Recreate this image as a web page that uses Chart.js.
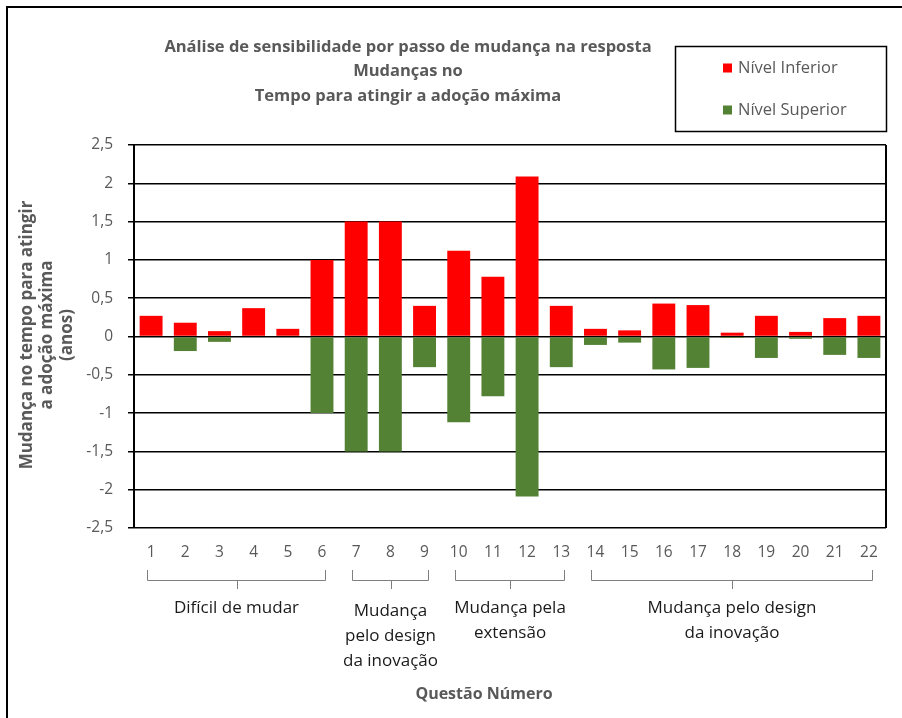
<!DOCTYPE html>
<html>
<head>
<meta charset="utf-8">
<script src="https://cdn.jsdelivr.net/npm/chart.js@4/dist/chart.umd.min.js"></script>
<style>
  html, body { margin: 0; padding: 0; background: #fff; }
  #wrap { width: 902px; height: 718px; }
</style>
</head>
<body>
<div id="wrap"><canvas id="sensChart" width="902" height="718"></canvas></div>
<script>
// dados
const questoes = ['1','2','3','4','5','6','7','8','9','10','11','12','13','14','15','16','17','18','19','20','21','22'];
const nivelInferior = [0.27, 0.18, 0.07, 0.37, 0.10, 1.00, 1.50, 1.50, 0.40, 1.12, 0.78, 2.09, 0.40, 0.10, 0.08, 0.43, 0.41, 0.05, 0.27, 0.06, 0.24, 0.27];
const nivelSuperior = [0, -0.19, -0.07, 0, 0, -1.00, -1.50, -1.50, -0.40, -1.12, -0.78, -2.09, -0.40, -0.11, -0.08, -0.43, -0.41, -0.02, -0.28, -0.03, -0.24, -0.28];
const tituloLinhas = ['Análise de sensibilidade por passo de mudança na resposta', 'Mudanças no', 'Tempo para atingir a adoção máxima'];
const eixoYLinhas = ['Mudança no tempo para atingir', 'a adoção máxima', '(anos)'];
const eixoXTitulo = 'Questão Número';
// grupos: primeira questão, última questão, linhas do rótulo
const grupos = [
    { de: 1, ate: 6, linhas: ['Difícil de mudar'] },
    { de: 7, ate: 9, linhas: ['Mudança', 'pelo design', 'da inovação'] },
    { de: 10, ate: 13, linhas: ['Mudança pela', 'extensão'] },
    { de: 14, ate: 22, linhas: ['Mudança pelo design', 'da inovação'] }
];

const FONTE = '"Open Sans", Lato, sans-serif';
const CINZA = '#595959';

// textos, moldura, chaves e legenda desenhados à mão
const extrasPlugin = {
    id: 'extras',
    afterDraw(chart) {
        const ctx = chart.ctx;
        const area = chart.chartArea;
        const xs = chart.scales.x;
        ctx.save();

        // moldura (só topo e esquerda aparecem no recorte)
        ctx.strokeStyle = '#000';
        ctx.lineWidth = 2;
        ctx.beginPath();
        ctx.moveTo(7, 718);
        ctx.lineTo(7, 7);
        ctx.lineTo(902, 7);
        ctx.stroke();

        // borda direita da área do gráfico
        ctx.beginPath();
        ctx.moveTo(area.right, area.top);
        ctx.lineTo(area.right, area.bottom);
        ctx.stroke();

        // título
        ctx.fillStyle = CINZA;
        ctx.font = 'bold 16.5px ' + FONTE;
        ctx.textAlign = 'center';
        ctx.textBaseline = 'middle';
        tituloLinhas.forEach((t, i) => ctx.fillText(t, 408, 47 + i * 24.5));

        // título do eixo Y
        ctx.save();
        ctx.translate(47, 335);
        ctx.rotate(-Math.PI / 2);
        ctx.font = 'bold 17px ' + FONTE;
        eixoYLinhas.forEach((t, i) => ctx.fillText(t, 0, (i - 1) * 20));
        ctx.restore();

        // título do eixo X
        ctx.font = 'bold 16px ' + FONTE;
        ctx.fillText(eixoXTitulo, 484, 694);

        // chaves e rótulos dos grupos
        ctx.strokeStyle = '#7f7f7f';
        ctx.lineWidth = 1;
        ctx.fillStyle = '#1a1a1a';
        ctx.font = '17px ' + FONTE;
        grupos.forEach(g => {
            const x1 = Math.round(xs.getPixelForValue(g.de - 1)) - 3.5;
            const x2 = Math.round(xs.getPixelForValue(g.ate - 1)) + 3.5;
            const xm = Math.round((x1 + x2) / 2) + 0.5;
            ctx.beginPath();
            ctx.moveTo(x1, 570);
            ctx.lineTo(x1, 580.5);
            ctx.lineTo(x2, 580.5);
            ctx.lineTo(x2, 570);
            ctx.moveTo(xm, 580.5);
            ctx.lineTo(xm, 589);
            ctx.stroke();
            const y0 = g.linhas.length === 3 ? 611 : 608;
            g.linhas.forEach((t, i) => ctx.fillText(t, (x1 + x2) / 2, y0 + i * 25));
        });

        // legenda em caixa
        ctx.strokeStyle = '#000';
        ctx.lineWidth = 1.5;
        ctx.strokeRect(675.5, 46.5, 211, 85);
        ctx.font = '16.5px ' + FONTE;
        ctx.textAlign = 'left';
        chart.data.datasets.forEach((ds, i) => {
            const y = 68 + i * 42;
            ctx.fillStyle = ds.backgroundColor;
            ctx.fillRect(723, y - 4.5, 9, 9);
            ctx.fillStyle = CINZA;
            ctx.fillText(ds.label, 738, y);
        });

        ctx.restore();
    }
};

new Chart(document.getElementById('sensChart'), {
    type: 'bar',
    data: {
        labels: questoes,
        datasets: [
            { label: 'Nível Inferior', data: nivelInferior, backgroundColor: '#ff0000', borderWidth: 0 },
            { label: 'Nível Superior', data: nivelSuperior, backgroundColor: '#548235', borderWidth: 0 }
        ]
    },
    options: {
        responsive: false,
        animation: false,
        layout: { padding: { left: 0, right: 16, top: 145, bottom: 0 } },
        categoryPercentage: 1,
        barPercentage: 0.67,
        plugins: {
            legend: { display: false },
            title: { display: false },
            tooltip: { enabled: false }
        },
        scales: {
            x: {
                stacked: true,
                grid: { display: false, drawTicks: false },
                border: { display: false },
                ticks: { color: CINZA, font: { family: FONTE, size: 15.5 }, padding: 15, maxRotation: 0, autoSkip: false },
                afterFit(scale) { scale.height = 190; }
            },
            y: {
                stacked: true,
                min: -2.5,
                max: 2.5,
                grid: { color: '#000', lineWidth: 1.5, tickLength: 6, tickColor: '#000' },
                border: { color: '#000', width: 2 },
                ticks: {
                    stepSize: 0.5,
                    color: CINZA,
                    font: { family: FONTE, size: 15.5 },
                    padding: 15,
                    callback: v => String(Math.round(v * 10) / 10).replace('.', ',')
                },
                afterFit(scale) { scale.width = 134; }
            }
        }
    },
    plugins: [extrasPlugin]
});
</script>
</body>
</html>
